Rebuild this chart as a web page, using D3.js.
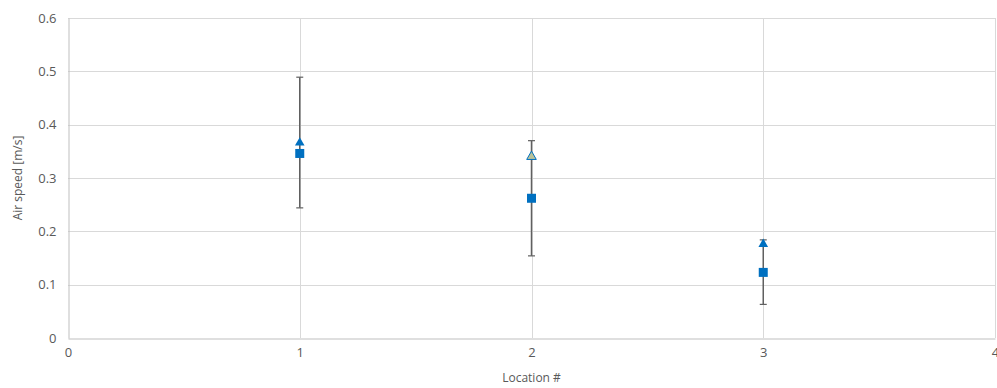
<!DOCTYPE html>
<html>
<head>
<meta charset="utf-8">
<script src="https://cdn.jsdelivr.net/npm/d3@7"></script>
<style>
  body { margin: 0; background: #fff; }
  text { font-family: "Open Sans", "Liberation Sans", sans-serif; fill: #595959; }
</style>
</head>
<body>
<div id="chart"></div>
<script>
// Chart data
var locations = [1, 2, 3];
var triangleSpeed = [0.366, 0.340, 0.176];
var squareSpeed = [0.346, 0.262, 0.123];
var errLow = [0.244, 0.154, 0.063];
var errHigh = [0.489, 0.370, 0.184];
var xTicks = [0, 1, 2, 3, 4];
var yTicks = [0, 0.1, 0.2, 0.3, 0.4, 0.5, 0.6];

// Dimensions
var width = 997;
var height = 388;
var margin = {top: 18, right: 2, bottom: 50, left: 68};

var svg = d3.select("#chart")
    .append("svg")
    .attr("width", width)
    .attr("height", height);

var x = d3.scaleLinear().domain([0, 4]).range([margin.left, width - margin.right]);
var y = d3.scaleLinear().domain([0, 0.6]).range([height - margin.bottom, margin.top]);

// Gridlines
svg.append("g")
    .selectAll("line.hgrid")
    .data(yTicks.slice(1))
    .enter()
    .append("line")
    .attr("x1", x(0)).attr("x2", x(4))
    .attr("y1", function(d) { return Math.round(y(d)) + 0.5; })
    .attr("y2", function(d) { return Math.round(y(d)) + 0.5; })
    .attr("stroke", "#d9d9d9");

svg.append("g")
    .selectAll("line.vgrid")
    .data(xTicks.slice(1))
    .enter()
    .append("line")
    .attr("x1", function(d) { return Math.round(x(d)) + 0.5; })
    .attr("x2", function(d) { return Math.round(x(d)) + 0.5; })
    .attr("y1", y(0)).attr("y2", y(0.6))
    .attr("stroke", "#d9d9d9");

// Axes
var yAxis = svg.append("g")
    .attr("transform", "translate(" + (Math.round(x(0)) + 0.5) + ",0)")
    .call(d3.axisLeft(y).tickValues(yTicks).tickSize(0).tickPadding(12)
        .tickFormat(function(d) { return d === 0 ? "0" : d3.format(".1f")(d); }));
yAxis.select(".domain").attr("stroke", "#bfbfbf");
yAxis.selectAll("text").style("font-size", "13px").attr("fill", "#595959");

var xAxis = svg.append("g")
    .attr("transform", "translate(0," + (Math.round(y(0)) + 0.5) + ")")
    .call(d3.axisBottom(x).tickValues(xTicks).tickSize(0).tickPadding(9)
        .tickFormat(d3.format("d")));
xAxis.select(".domain").attr("stroke", "#bfbfbf");
xAxis.selectAll("text").style("font-size", "13px").attr("fill", "#595959");

// Axis titles
svg.append("text")
    .attr("x", x(2))
    .attr("y", 382)
    .attr("text-anchor", "middle")
    .style("font-size", "12px")
    .text("Location #");

svg.append("text")
    .attr("transform", "translate(22," + y(0.3) + ") rotate(-90)")
    .attr("text-anchor", "middle")
    .style("font-size", "12px")
    .text("Air speed [m/s]");

// Error bars
var bars = svg.append("g")
    .selectAll("g")
    .data(locations)
    .enter()
    .append("g");

bars.append("line")
    .attr("x1", function(d) { return x(d); })
    .attr("x2", function(d) { return x(d); })
    .attr("y1", function(d, i) { return y(errLow[i]); })
    .attr("y2", function(d, i) { return y(errHigh[i]); })
    .attr("stroke", "#606060")
    .attr("stroke-width", 1.5);

bars.append("line")
    .attr("x1", function(d) { return x(d) - 3.5; })
    .attr("x2", function(d) { return x(d) + 3.5; })
    .attr("y1", function(d, i) { return y(errLow[i]); })
    .attr("y2", function(d, i) { return y(errLow[i]); })
    .attr("stroke", "#606060")
    .attr("stroke-width", 1.2);

bars.append("line")
    .attr("x1", function(d) { return x(d) - 3.5; })
    .attr("x2", function(d) { return x(d) + 3.5; })
    .attr("y1", function(d, i) { return y(errHigh[i]); })
    .attr("y2", function(d, i) { return y(errHigh[i]); })
    .attr("stroke", "#606060")
    .attr("stroke-width", 1.2);

// Triangle markers
svg.append("g")
    .selectAll("path")
    .data(locations)
    .enter()
    .append("path")
    .attr("d", d3.symbol().type(d3.symbolTriangle).size(40))
    .attr("transform", function(d, i) { return "translate(" + x(d) + "," + y(triangleSpeed[i]) + ")"; })
    .attr("fill", function(d, i) { return i === 1 ? "#b9c29a" : "#0070c0"; })
    .attr("stroke", "#0070c0")
    .attr("stroke-width", function(d, i) { return i === 1 ? 1 : 0; });

// Square markers
svg.append("g")
    .selectAll("rect")
    .data(locations)
    .enter()
    .append("rect")
    .attr("x", function(d) { return x(d) - 4.5; })
    .attr("y", function(d, i) { return y(squareSpeed[i]) - 4.5; })
    .attr("width", 9)
    .attr("height", 9)
    .attr("fill", "#0070c0");
</script>
</body>
</html>
